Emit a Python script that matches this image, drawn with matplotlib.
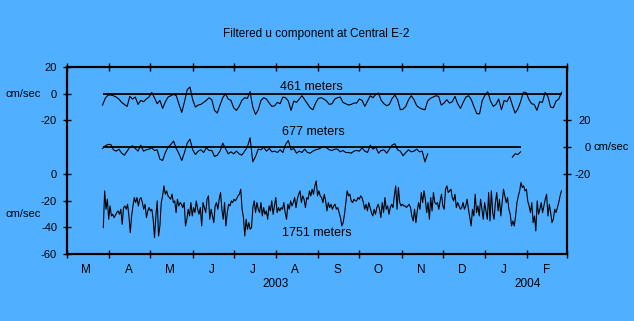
import numpy as np
import pandas as pd
import matplotlib
matplotlib.use("Agg")
import matplotlib.pyplot as plt
import matplotlib.dates as mdates
import matplotlib.transforms as mtransforms
from matplotlib.ticker import FixedLocator, FixedFormatter, NullFormatter

plt.rcParams['font.family'] = ['Liberation Sans', 'DejaVu Sans']

# ---------------- data (cm/sec) ----------------
title = "Filtered u component at Central E-2"
series_names = ["461 meters", "677 meters", "1751 meters"]

# 461 m, every 2 days from 2003-03-27
u461 = [-8.5, -3.5, -1, -1, -1.5, -2.5, -4, -6.5, -8, -9.5, -2, -4, -2.5, -8, -5, -6, -4, -2.5, 1, -3,
        -7.5, -5, -11, -6, -2.5, -1.5, -0.5, -1.5, -8, -14, -6, 3, 5, -4.5, -10, -8.5, -8, -6.5, -5, -3,
        -4.5, -12.5, -14.5,
        -8.5, -3, 0, -4, -5, -10.5, -12.5, -9.5, -5, -3, -3.5, 1.5, -10, -15.5, -12, -5, -3, -4, -7, -9.5,
        -9, -6.5, -7.5, -2.5, -3, -5.5, -12.5, -5.5, -6.5, -4, -1.5, -4.5, -7.5, -10.5, -12, -7, -3.5, -3,
        -4, -5.5, -8, -7.5, -4,
        -3, -2.5, -6.5, -7.5, -8.5, -8, -7, -7, -4, -5, -9.5, -5.5, -1.5, -3, -0.5, 0.5, -5, -7.5, -9, -8,
        -3.5, -1, -4.5, -12, -11.5, -9.5, -4.5, -1.5, -4.5, -9, -10.5, -11.5, -12, -5.5, -3.5, -2.5, -1.5,
        -2, -8.5, -7, -4.5, -7,
        -6, -2, -7.5, -11, -6.5, -2.5, -1.5, -4.5, -10, -15, -15, -5, -1, 1.5, -5.5, -9.5, -8, -4, -12, -5,
        -6, -2, -8.5, -14.5, -11.5, -6, 1, 1, -4, -7.5, -8, -12.5, -6, -6.5, 1, -2, -10, -10.5, -5.5, -4, 1]

# 677 m, every 2 days from 2003-03-27
u677 = [-1, 1, 2, 2, -2, -3, -1.5, -4.5, -6, -3, 0, 1, -1, -3, 1.5, -3, -2, -1.5, -0.5, -2.5,
        -2, -9, -10, -4, 0, 2, 4.5, -1, -5, -10, -4, 3, 6, -2, -5.5, -3, -2, -4, -0.5, -2.5,
        -2.5, -7, -6,
        -3, 3, -1, -5, -3.5, -5, -3, -5, -6, -3, 0, 7, -11, -7, -1.5, -2, 0, -3, -1, -3.5,
        -3, -4, -2, -4, 2, 5, -2, -1, -4.5, -3, -4, -1.5, -4, -4.5, -3, -2, -1.5, -0.5, 0.5, -0.5,
        -2, -2.5, -1.5,
        -1.5, -3.5, -2.5, -4, -4, -4.5, -3, -2.5, -3, -0.5, -3, -4, 1.5, -1.5, 0, -4.5, -2.5, -2,
        -4.5, -1.5, 1.5, 2.5, -2, -3, -6.5, -4, -2, -3.5, -3, -1.5, -3.5, -3, -11, -5]
# 677 m, short record in late January 2004
u677_tail = [-7.5, -5, -5.5, -3.5]

# 1751 m, roughly daily from 2003-03-27 to 2004-02-25
u1751 = [-40.25, -12.75, -26.5, -19, -34, -24, -31.5, -30.25, -32.75, -31, -29, -27.75, -30.25, -26.5,
         -37.75, -25.25, -24, -26.5, -22.75, -31.5, -44, -31.5, -24, -17.75, -21.5, -17.75, -24, -19,
         -17.75, -21.5, -26.5, -22.75, -32.75, -27.75, -25.25, -27.75, -26.5, -34, -47.75, -31.5, -20.25,
         -46.5, -39, -21.5, -16.5, -9, -15.25, -12.75, -16.5, -17.75, -19, -15.25, -21.5, -20.25, -29,
         -19, -24, -21.5, -22.75, -25.25, -21.5, -39, -34, -26.5, -31.5, -21.5, -31.5, -25.25, -29,
         -20.25, -26.5, -30.25, -25.25, -39, -21.5, -25.25, -29, -19, -16.5, -34, -26.5, -31.5, -36.5,
         -24, -21.5, -26.5, -19, -14, -26.5, -34, -21.5, -39, -29, -22.75, -24, -20.25, -21.5, -19,
         -20.25, -18.5, -16.5, -15.25, -11.5, -26.5, -32.75, -46.5, -34, -41.5, -36.5, -41.5, -40.25,
         -25.25, -20.25, -29, -21.5, -26.5, -29, -21.5, -31.5, -25.25, -30.25, -27.75, -34, -24, -27.75,
         -20.25, -30.25, -24, -17.75, -29, -25.25, -27.75, -25.25, -26.5, -21.5, -29, -34, -22.75, -26.5,
         -20.25, -24, -21.5, -17.75, -25.25, -19, -15.25, -12.75, -21.5, -16.5, -19, -25.25, -17.75, -19,
         -12.75, -16.5, -11.5, -15.25, -9, -5.25, -16.5, -12.75, -16.5, -17.75, -21.5, -15.25, -20.25,
         -27.75, -21.5, -25.25, -22.75, -26.5, -24, -22.75, -26.5, -25.25, -29, -32.75, -39, -36.5,
         -30.25, -21.5, -12.75, -16.5, -15.25, -20.25, -21.5, -19, -20.25, -20.25, -17.75, -19, -16.5,
         -17.75, -21.5, -26.5, -22.75, -27.75, -21.5, -25.25, -29, -31.5, -26.5, -30.25, -25.25, -22.75,
         -26.5, -32.75, -21.5, -29, -17.75, -26.5, -24, -30.25, -25.25, -22.75, -25.25, -16.5, -9, -26.5,
         -10.25, -21.5, -24, -22.75, -24, -24, -25.25, -24, -22.75, -25.25, -31.5, -35.25, -26.5, -36.5,
         -27.75, -21.5, -26.5, -14, -21.5, -12.75, -19, -29, -21.5, -34, -17.75, -27.75, -14, -21.5,
         -22.75, -21.5, -26.5, -20.25, -15.25, -24, -26.5, -11.5, -9, -14, -12.75, -11.5, -17.75, -20.25,
         -15.25, -25.25, -21.5, -24, -26.5, -25.25, -21.5, -26.5, -24, -19, -26.5, -32.75, -39, -26.5,
         -31.5, -15.25, -29, -24, -31.5, -19, -26.5, -34, -21.5, -27.75, -34, -14, -35.25, -12.75, -29,
         -34, -21.5, -14, -27.75, -19, -31.5, -21.5, -11.5, -16.5, -21.5, -17.75, -26.5, -30.25, -39,
         -35.25, -39, -31.5, -21.5, -16.5, -12.75, -6.5, -10.25, -9, -12.75, -11.5, -20.25, -24, -29,
         -21.5, -36.5, -31.5, -42.75, -20.25, -30.25, -26.5, -21.5, -29, -24, -19, -15.25, -31.5, -22.75,
         -29, -36.5, -34, -26.5, -29, -25.25, -21.5, -16.5, -12.75]

month_letters = ["M", "A", "M", "J", "J", "A", "S", "O", "N", "D", "J", "F"]
year_labels = ["2003", "2004"]
left_ticks_461 = [20, 0, -20]
left_ticks_1751 = [0, -20, -40, -60]
right_ticks_677 = [20, 0, -20]
unit = "cm/sec"

# ---------------- layout / style ----------------
bg = "#50B0FF"
off_461, off_677, off_1751 = 0, -40, -60
W, H = 634, 321

dates_461 = pd.date_range("2003-03-27", periods=len(u461), freq="2D")
dates_677 = pd.date_range("2003-03-27", periods=len(u677), freq="2D")
dates_677_tail = pd.date_range("2004-01-21", periods=len(u677_tail), freq="2D")
dates_1751 = pd.date_range("2003-03-27 14:00", "2004-02-25 22:00", periods=len(u1751))

fig = plt.figure(figsize=(W / 100, H / 100), dpi=100, facecolor=bg)
ax = fig.add_axes([67 / W, 67 / H, 500 / W, 187 / H])
ax.set_facecolor(bg)

lw_data = 0.8
ax.plot(dates_461, np.array(u461) + off_461, color="k", lw=lw_data)
ax.plot(dates_677, np.array(u677) + off_677, color="k", lw=lw_data)
ax.plot(dates_677_tail, np.array(u677_tail) + off_677, color="k", lw=lw_data)
ax.plot(dates_1751, np.array(u1751) + off_1751, color="k", lw=lw_data)

ax.hlines(off_461, dates_461[0], dates_461[-1], color="k", lw=1.3)
ax.hlines(off_677, dates_677[0], dates_677_tail[-1], color="k", lw=1.3)

x0 = pd.Timestamp("2003-03-01")
x1 = pd.Timestamp("2004-03-01")
ax.set_xlim(x0, x1)
ax.set_ylim(-120, 20)

for s in ax.spines.values():
    s.set_linewidth(1.5)

# x ticks
month_starts = pd.date_range(x0, x1, freq="MS")
mid_months = [d + pd.Timedelta(days=14) for d in month_starts[:-1]]
ax.xaxis.set_major_locator(FixedLocator(mdates.date2num(month_starts)))
ax.xaxis.set_major_formatter(NullFormatter())
ax.xaxis.set_minor_locator(FixedLocator(mdates.date2num(mid_months)))
ax.xaxis.set_minor_formatter(FixedFormatter(month_letters))
ax.tick_params(axis="x", which="major", direction="inout", length=8 * 0.72, width=1,
               top=True, bottom=True)
ax.tick_params(axis="x", which="minor", length=0, pad=7.2, labelsize=8.5)

# year labels
trans = mtransforms.blended_transform_factory(ax.transData, ax.transAxes)
for lab, d in zip(year_labels, [pd.Timestamp("2003-08-01"), pd.Timestamp("2004-02-01")]):
    ax.text(mdates.date2num(d), -30 / 187, lab, transform=trans, ha="center", va="center",
            fontsize=8.5)

# left y ticks
left_pos = [v + off_461 for v in left_ticks_461] + [v + off_1751 for v in left_ticks_1751]
left_lab = [str(v) for v in left_ticks_461] + [str(v) for v in left_ticks_1751]
ax.set_yticks(left_pos)
ax.set_yticklabels(left_lab)
ax.tick_params(axis="y", direction="inout", length=8 * 0.72, width=1, pad=4.3, labelsize=8)

# right y ticks
ax2 = ax.twinx()
ax2.set_ylim(ax.get_ylim())
ax2.set_yticks([v + off_677 for v in right_ticks_677])
ax2.set_yticklabels([str(v) for v in right_ticks_677])
ax2.tick_params(axis="y", direction="inout", length=8 * 0.72, width=1, pad=14.4, labelsize=8)
for t in ax2.get_yticklabels():
    t.set_ha("right")
for s in ax2.spines.values():
    s.set_linewidth(1.5)

# unit labels
transy = mtransforms.blended_transform_factory(fig.transFigure, ax.transData)
ax.text(23.5 / W, off_461, unit, transform=transy, ha="center", va="center", fontsize=8)
ax.text(23.5 / W, -30 + off_1751, unit, transform=transy, ha="center", va="center", fontsize=8)
ax.text(594 / W, off_677, unit, transform=transy, ha="left", va="center", fontsize=8)

# series labels
ax.text(pd.Timestamp("2003-08-27"), 5.4, series_names[0], ha="center", va="center", fontsize=9)
ax.text(pd.Timestamp("2003-08-28"), -28.9, series_names[1], ha="center", va="center", fontsize=9)
ax.text(pd.Timestamp("2003-08-31"), -104.5, series_names[2], ha="center", va="center", fontsize=9)

fig.text(316 / W, 1 - 33.5 / H, title, ha="center", va="center", fontsize=8.5)

fig.savefig("out.png", dpi=100, facecolor=bg)
